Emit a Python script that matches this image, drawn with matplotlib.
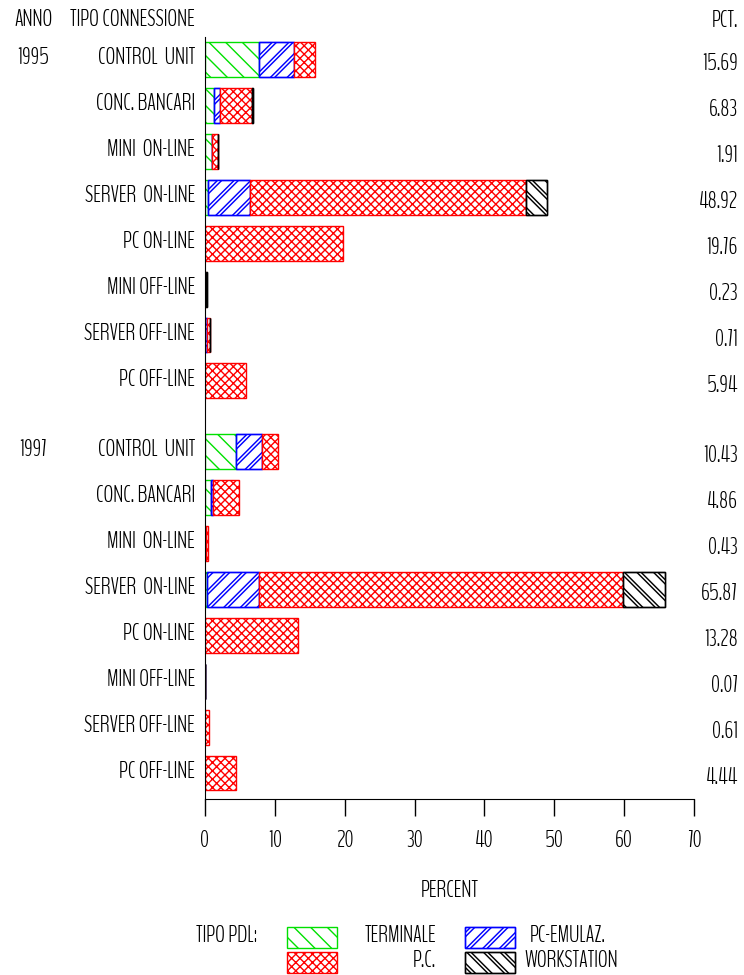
import numpy as np
import matplotlib
matplotlib.use("Agg")
import matplotlib.pyplot as plt
from matplotlib.patches import Rectangle

plt.rcParams['font.family'] = ['BenchNine', 'DejaVu Sans']
plt.rcParams['font.weight'] = 'light'
plt.rcParams['axes.labelweight'] = 'light'

# --- data ---
years = ['1995', '1997']
categories = ['CONTROL  UNIT', 'CONC. BANCARI', 'MINI  ON-LINE', 'SERVER  ON-LINE',
              'PC ON-LINE', 'MINI OFF-LINE', 'SERVER OFF-LINE', 'PC OFF-LINE']
# 1995 rows then 1997 rows
terminale = [7.75, 1.30, 1.00, 0.40, 0.0, 0.02, 0.0, 0.0,
             4.40, 0.85, 0.15, 0.25, 0.0, 0.01, 0.0, 0.0]
pc_emulaz = [5.00, 0.80, 0.05, 6.00, 0.0, 0.05, 0.30, 0.0,
             3.70, 0.30, 0.03, 7.50, 0.0, 0.01, 0.05, 0.0]
pc = [2.94, 4.65, 0.82, 39.50, 19.76, 0.10, 0.35, 5.94,
      2.33, 3.71, 0.25, 52.12, 13.28, 0.04, 0.56, 4.44]
workstation = [0.0, 0.08, 0.04, 3.02, 0.0, 0.06, 0.06, 0.0,
               0.0, 0.0, 0.0, 6.00, 0.0, 0.01, 0.0, 0.0]
pct = [15.69, 6.83, 1.91, 48.92, 19.76, 0.23, 0.71, 5.94,
       10.43, 4.86, 0.43, 65.87, 13.28, 0.07, 0.61, 4.44]

# name, values, colour, hatch, doubled hatch lines?
series = [('TERMINALE', terminale, '#00e000', '\\\\', False),
          ('PC-EMULAZ.', pc_emulaz, '#0000ff', '//', True),
          ('P.C.', pc, '#ff0000', 'xxxx', False),
          ('WORKSTATION', workstation, '#000000', '\\\\', True)]

FS = 16.5


def hatched_rect(ax_or_fig, xy, w, h, col, hatch, double, **kw):
    # white box with coloured hatch; "double" hatch = thick line with a white core
    with plt.rc_context({'hatch.linewidth': 3.2 if double else 1.0}):
        p = Rectangle(xy, w, h, facecolor='white', edgecolor=col, hatch=hatch,
                      linewidth=1.0, **kw)
    ax_or_fig.add_artist(p)
    if double:
        with plt.rc_context({'hatch.linewidth': 1.1}):
            q = Rectangle(xy, w, h, facecolor='none', edgecolor='white', hatch=hatch,
                          linewidth=0, **kw)
        ax_or_fig.add_artist(q)
        r = Rectangle(xy, w, h, facecolor='none', edgecolor=col, linewidth=1.0, **kw)
        ax_or_fig.add_artist(r)


fig = plt.figure(figsize=(7.44, 9.75), dpi=100)
ax = fig.add_axes([0.2755, 0.1805, 0.6573, 0.7815])

n = len(categories)
ypos = np.array([i + (0.54 if i >= n else 0) for i in range(2 * n)])
bar_h = 0.76

left = np.zeros(2 * n)
for name, vals, col, hatch, double in series:
    vals = np.array(vals)
    for i in range(2 * n):
        if vals[i] > 0:
            hatched_rect(ax, (left[i], ypos[i] - bar_h / 2), vals[i], bar_h, col, hatch, double)
    left += vals

ax.set_xlim(0, 70)
ax.set_ylim(ypos[-1] + 0.567, -0.49)
ax.set_xticks(np.arange(0, 71, 10))
ax.tick_params(axis='x', direction='out', length=12, width=1, pad=10, labelsize=FS)
ax.set_yticks([])
for s in ['top', 'right']:
    ax.spines[s].set_visible(False)
ax.set_xlabel('PERCENT', fontsize=FS, fontweight='light', labelpad=21)

# row labels, year labels, percent column
for i in range(2 * n):
    ax.text(-1.4, ypos[i] - 0.03, categories[i % n], ha='right', va='center', fontsize=FS)
    ax.text(76.3, ypos[i] + 0.1, '%.2f' % pct[i], ha='right', va='center', fontsize=FS)
for k, yr in enumerate(years):
    ax.text(-24.6, ypos[k * n] - 0.03, yr, ha='center', va='center', fontsize=FS)

ax.text(-24.6, -0.86, 'ANNO', ha='center', va='center', fontsize=FS)
ax.text(-1.4, -0.86, 'TIPO CONNESSIONE', ha='right', va='center', fontsize=FS)
ax.text(76.3, -0.84, 'PCT.', ha='right', va='center', fontsize=FS)

# legend drawn by hand at the bottom
fig.text(196 / 744, 1 - 936 / 975, 'TIPO PDL:', ha='left', va='center', fontsize=FS)
boxes = [(287, 927, 0, 436, 'right'), (465, 927, 1, 530, 'left'),
         (287, 952, 2, 436, 'right'), (465, 952, 3, 524, 'left')]
for bx, by, si, tx, ha in boxes:
    name, vals, col, hatch, double = series[si]
    hatched_rect(fig, (bx / 744, 1 - (by + 21) / 975), 50 / 744, 21 / 975, col, hatch, double,
                 transform=fig.transFigure)
    fig.text(tx / 744, 1 - (by + 9) / 975, name, ha=ha, va='center', fontsize=FS)

fig.savefig('out.png', dpi=100)
